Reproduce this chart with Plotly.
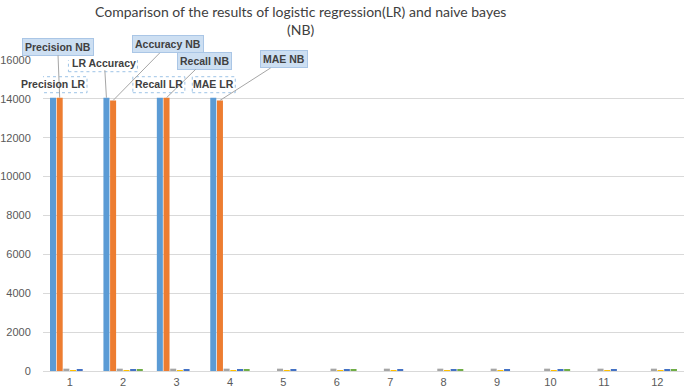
import plotly.graph_objects as go

categories = [1, 2, 3, 4, 5, 6, 7, 8, 9, 10, 11, 12]
series_names = ["Series1", "Series2", "Series3", "Series4", "Series5", "Series6"]
series1 = [14060, 14060, 14060, 14060, None, None, None, None, None, None, None, None]
series2 = [14060, 13920, 14060, 13920, None, None, None, None, None, None, None, None]
series3 = [120, 120, 120, 120, 120, 120, 120, 120, 120, 120, 120, 120]
series4 = [50, 50, 50, 50, 50, 50, 50, 50, 50, 50, 50, 50]
series5 = [60, 60, 60, 60, 60, 60, 60, 60, 60, 60, 60, 60]
series6 = [None, 60, None, 60, None, 60, None, 60, None, 60, None, 60]
colors = ["#5B9BD5", "#ED7D31", "#A5A5A5", "#FFC000", "#4472C4", "#70AD47"]
all_series = [series1, series2, series3, series4, series5, series6]
y_ticks = [0, 2000, 4000, 6000, 8000, 10000, 12000, 14000, 16000]

title_text = "Comparison of the results of logistic regression(LR) and naive bayes<br>(NB)"

nb_labels = [("Precision NB", 1, 1, -2, -51), ("Accuracy NB", 1, 2, 55, -56),
             ("Recall NB", 1, 3, 38, -37), ("MAE NB", 1, 4, 64, -41)]
lr_arrow_labels = [("LR Accuracy", 0, 2, -2, -35)]
lr_plain_labels = [("Precision LR", 0, 1, 0), ("Recall LR", 0, 3, -1), ("MAE LR", 0, 4, 0)]
# selection outlines around the unboxed labels (series, category, pixel extents)
outline_boxes = [(0, 1, -33, 34, 5, 21), (0, 2, -38, 31, 26, 42),
                 (0, 3, -27, 25, 5, 21), (0, 4, -21, 22, 5, 21)]

BARGAP = 0.25
GROUPGAP = 0.1
n = len(all_series)
slot = (1 - BARGAP) / n


def xpos(si, cat):
    return cat - (1 - BARGAP) / 2 + slot * (si + 0.5)


fig = go.Figure()
for name, vals, col in zip(series_names, all_series, colors):
    fig.add_trace(go.Bar(x=categories, y=vals, name=name, marker=dict(color=col, line=dict(width=0))))

label_font = dict(family="Liberation Sans, Arial, sans-serif", size=10.5, color="#404040")
ann = []
for text, si, cat, ax, ay in nb_labels:
    ann.append(dict(x=xpos(si, cat), y=all_series[si][cat - 1], xref="x", yref="y",
                    text="<b>%s</b>" % text, showarrow=True, arrowhead=0, arrowwidth=1,
                    arrowcolor="#a6a6a6", ax=ax, ay=ay, font=label_font,
                    bgcolor="#cddff2", bordercolor="#aac6e6", borderwidth=1, borderpad=2))
for text, si, cat, ax, ay in lr_arrow_labels:
    ann.append(dict(x=xpos(si, cat), y=all_series[si][cat - 1], xref="x", yref="y",
                    text="<b>%s</b>" % text, showarrow=True, arrowhead=0, arrowwidth=1,
                    arrowcolor="#a6a6a6", ax=ax, ay=ay, font=label_font))
for text, si, cat, xs in lr_plain_labels:
    ann.append(dict(x=xpos(si, cat), y=all_series[si][cat - 1], xref="x", yref="y",
                    text="<b>%s</b>" % text, showarrow=False, xshift=xs, yshift=6,
                    yanchor="bottom", font=label_font))

ann.append(dict(x=(300 - 43) / 641, y=1.0, xref="paper", yref="paper", text=title_text,
                showarrow=False, xanchor="center", yanchor="bottom", yshift=20,
                font=dict(family="Lato, sans-serif", size=14, color="#404040")))

shapes = []
for si, cat, x0, x1, y0, y1 in outline_boxes:
    shapes.append(dict(type="rect", xref="x", yref="y", xsizemode="pixel", ysizemode="pixel",
                       xanchor=xpos(si, cat), yanchor=all_series[si][cat - 1],
                       x0=x0, x1=x1, y0=y0, y1=y1,
                       line=dict(color="#9dc3e6", width=1, dash="dot"), layer="below"))

fig.update_layout(
    width=685, height=389,
    margin=dict(l=43, r=1, t=60, b=18, autoexpand=False),
    barmode="group", bargap=BARGAP, bargroupgap=GROUPGAP,
    plot_bgcolor="white", paper_bgcolor="white",
    showlegend=False,
    annotations=ann,
    shapes=shapes,
    xaxis=dict(range=[0.5, 12.5], tickmode="array", tickvals=categories,
               ticktext=[str(c) for c in categories], showgrid=False,
               showline=True, linecolor="#d9d9d9", linewidth=1,
               ticks="outside", ticklen=1, tickcolor="rgba(0,0,0,0)", automargin=False,
               tickfont=dict(family="Liberation Sans, Arial, sans-serif", size=11, color="#595959")),
    yaxis=dict(range=[0, 16000], tickmode="array", tickvals=y_ticks,
               ticktext=[str(v) for v in y_ticks], automargin=False,
               showgrid=True, gridcolor="#d9d9d9", gridwidth=1, zeroline=False,
               ticks="outside", ticklen=9, tickcolor="rgba(0,0,0,0)",
               tickfont=dict(family="Liberation Sans, Arial, sans-serif", size=11, color="#595959")),
)

fig.write_html("out.html", config={"displayModeBar": False},
               post_script="document.body.style.margin='0';document.body.style.overflow='hidden';")
